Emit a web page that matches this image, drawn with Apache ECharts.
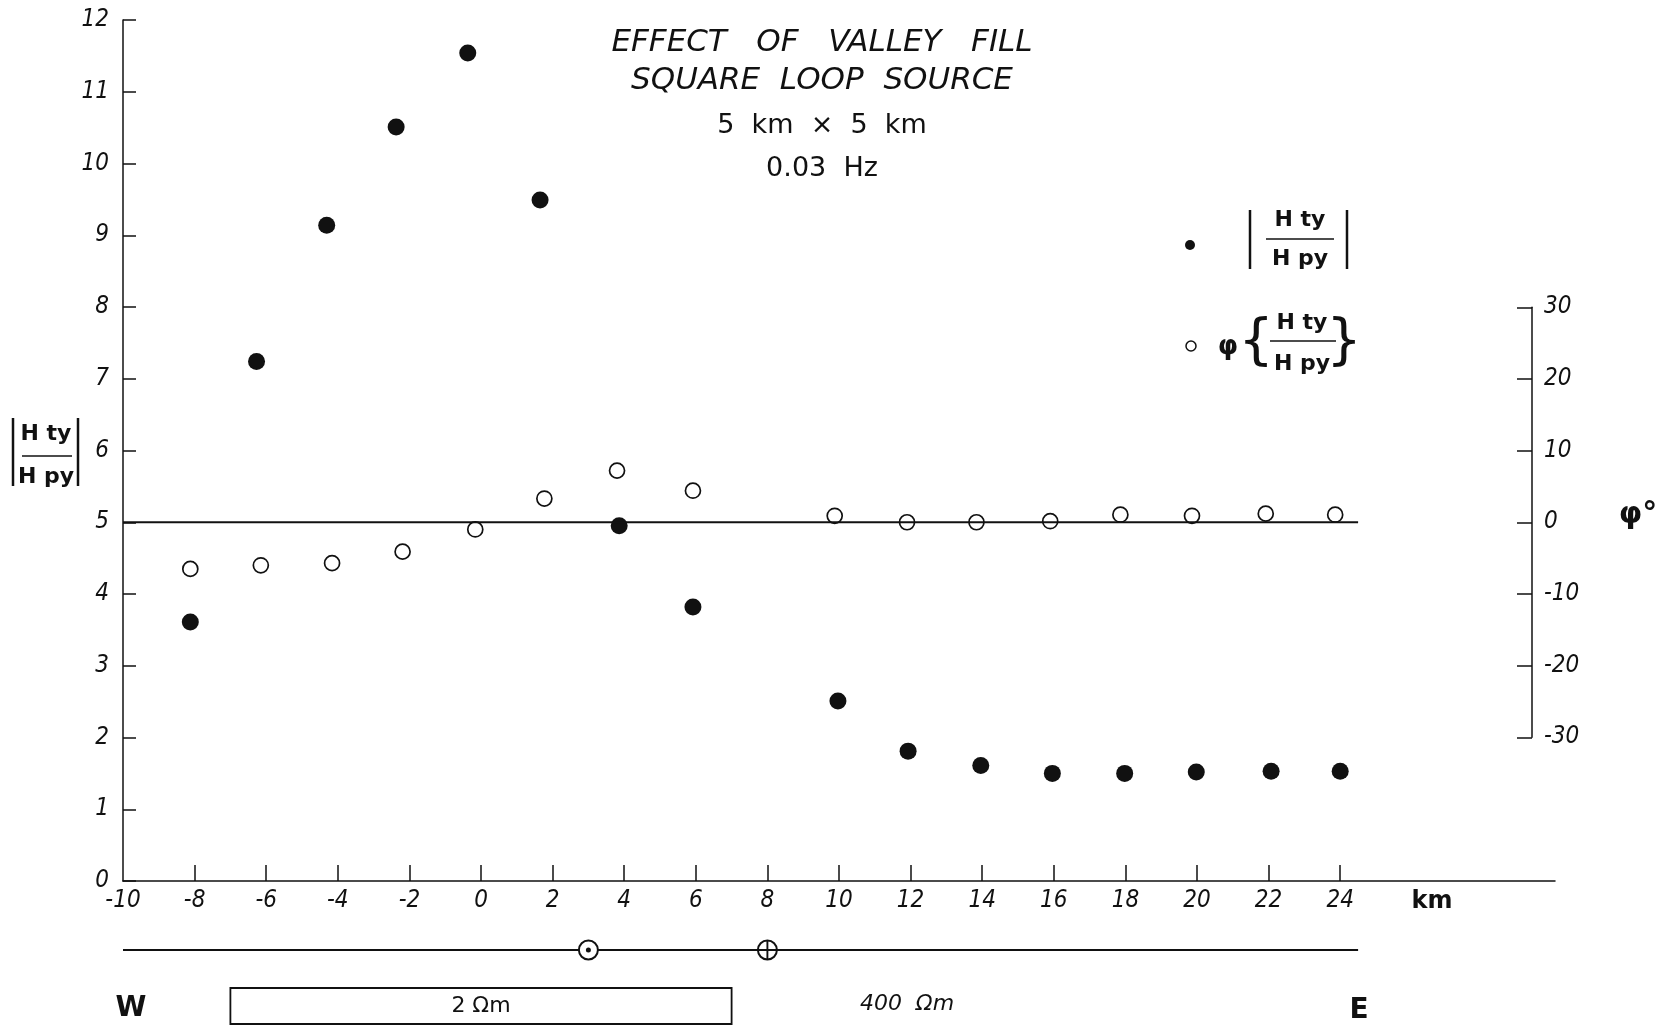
<!DOCTYPE html>
<html><head><meta charset="utf-8">
<script src="https://cdn.jsdelivr.net/npm/echarts@6/dist/echarts.min.js"></script>
<style>html,body{margin:0;padding:0;background:#fff}#c{width:1673px;height:1031px}</style>
</head><body><div id="c"></div>
<script>
// ---- data ----
const kmTicks = [-8,-6,-4,-2,0,2,4,6,8,10,12,14,16,18,20,22,24];
const kmLabels = [-10,-8,-6,-4,-2,0,2,4,6,8,10,12,14,16,18,20,22,24];
const phiTicks = [-30,-20,-10,0,10,20,30];
// |Hty/Hpy| (filled dots)
const magX = [-8.12,-6.27,-4.31,-2.37,-0.37,1.65,3.86,5.92,9.97,11.93,13.96,15.96,17.98,19.98,22.07,24.0];
const magY = [3.61,7.24,9.14,10.51,11.54,9.49,4.95,3.82,2.51,1.81,1.61,1.50,1.50,1.52,1.53,1.53];
// phase of Hty/Hpy in degrees (open dots)
const phX = [-8.12,-6.15,-4.16,-2.19,-0.16,1.77,3.8,5.92,9.88,11.9,13.84,15.9,17.86,19.86,21.92,23.86];
const phY = [-6.5,-6.0,-5.7,-4.1,-1.0,3.3,7.2,4.4,0.9,0.0,0.0,0.15,1.05,0.9,1.2,1.05];
// reference line (phase 0 = magnitude 5) extent in km
const refLineX = [-10, 24.5];
const refLineY = 5;
// profile sketch below the axis
const profileX = [-10, 24.5];
const loopCenterX = 3;   // ⊙
const loopCrossX = 8;    // ⊕
const valleyX = [-7, 7]; // 2 Ωm valley fill
const valleyLabel = '2 Ωm';
const hostLabel = '400  Ωm';

const chart = echarts.init(document.getElementById('c'), null, {renderer:'canvas'});
const F = 'DejaVu Sans';
const NF = '"Liberation Sans Narrow","DejaVu Sans Condensed","DejaVu Sans"';
const axisLblStyle = {fontFamily: NF, fontStyle:'italic', fontSize:24, color:'#111'};
const blk = '#111';
const PY = 0.8; // profile line level inside the sketch grid

function txt(x,y,t,opt){
  return Object.assign({type:'text', x:x, y:y, style:Object.assign({text:t, fill:blk, fontFamily:F, fontSize:22, textAlign:'center', textVerticalAlign:'middle'}, opt||{})});
}
function ln(x1,y1,x2,y2,w){
  return {type:'line', shape:{x1:x1,y1:y1,x2:x2,y2:y2}, style:{stroke:blk, lineWidth:w||1.5}};
}

const option = {
  backgroundColor:'#fff',
  animation:false,
  grid:[
    {left:123, right:118, top:20, bottom:150},
    {left:1400, right:141, top:307.25, bottom:293.75},
    {left:123, right:118, top:930, height:100}
  ],
  xAxis:[
    {gridIndex:0, type:'value', min:-10, max:30, interval:2,
     axisLine:{show:true, onZero:false, lineStyle:{color:blk, width:1.5}},
     axisTick:{show:true, inside:true, length:16, customValues:kmTicks, lineStyle:{color:blk, width:1.5}},
     axisLabel:Object.assign({customValues:kmLabels, margin:8}, axisLblStyle),
     splitLine:{show:false}},
    {gridIndex:1, type:'value', min:0, max:1, show:false},
    {gridIndex:2, type:'value', min:-10, max:30, show:false}
  ],
  yAxis:[
    {gridIndex:0, type:'value', min:0, max:12, interval:1,
     axisLine:{show:true, onZero:false, lineStyle:{color:blk, width:1.5}},
     axisTick:{show:true, inside:true, length:13, lineStyle:{color:blk, width:1.5}},
     axisLabel:Object.assign({margin:14}, axisLblStyle),
     splitLine:{show:false}},
    {gridIndex:0, type:'value', min:-50, max:70, show:false},
    {gridIndex:1, type:'value', position:'right', min:-30, max:30, interval:10,
     axisLine:{show:true, onZero:false, lineStyle:{color:blk, width:1.5}},
     axisTick:{show:true, inside:true, length:15, lineStyle:{color:blk, width:1.5}},
     axisLabel:Object.assign({margin:12}, axisLblStyle),
     splitLine:{show:false}},
    {gridIndex:2, type:'value', min:0, max:1, show:false}
  ],
  series:[
    {type:'line', xAxisIndex:0, yAxisIndex:0, symbol:'none', silent:true,
     lineStyle:{color:blk, width:2}, data:refLineX.map(x=>[x, refLineY])},
    {type:'scatter', name:'|Hty/Hpy|', xAxisIndex:0, yAxisIndex:0, symbol:'circle', symbolSize:17,
     itemStyle:{color:blk, opacity:1}, data:magX.map((x,i)=>[x, magY[i]])},
    {type:'scatter', name:'phase', xAxisIndex:0, yAxisIndex:1, symbol:'circle', symbolSize:15,
     itemStyle:{color:'#fff', borderColor:blk, borderWidth:1.7, opacity:1}, data:phX.map((x,i)=>[x, phY[i]])},
    {type:'line', xAxisIndex:2, yAxisIndex:3, symbol:'none', silent:true,
     lineStyle:{color:blk, width:2}, data:profileX.map(x=>[x, PY]),
     markArea:{silent:true,
       itemStyle:{color:'#fff', borderColor:blk, borderWidth:1.8, opacity:1},
       label:{show:true, position:'inside', formatter:valleyLabel, fontFamily:F, fontSize:22, color:blk},
       data:[[{coord:[valleyX[0], 0.42]},{coord:[valleyX[1], 0.06]}]]}},
    {type:'scatter', xAxisIndex:2, yAxisIndex:3, symbol:'circle', symbolSize:19, silent:true,
     itemStyle:{color:'#fff', borderColor:blk, borderWidth:2, opacity:1}, data:[[loopCenterX, PY],[loopCrossX, PY]], z:3},
    {type:'scatter', xAxisIndex:2, yAxisIndex:3, symbol:'circle', symbolSize:5, silent:true,
     itemStyle:{color:blk, opacity:1}, data:[[loopCenterX, PY]], z:4},
    {type:'scatter', xAxisIndex:2, yAxisIndex:3, silent:true,
     symbol:'path://M-0.1,-1 H0.1 V-0.1 H1 V0.1 H0.1 V1 H-0.1 V0.1 H-1 V-0.1 H-0.1 Z', symbolSize:19,
     itemStyle:{color:blk, opacity:1}, data:[[loopCrossX, PY]], z:4}
  ],
  graphic:[
    // title block
    txt(822, 43, 'EFFECT   OF   VALLEY   FILL', {fontStyle:'italic', fontSize:31}),
    txt(822, 81, 'SQUARE  LOOP  SOURCE', {fontStyle:'italic', fontSize:31}),
    txt(822, 126, '5  km  ×  5  km', {fontSize:27}),
    txt(822, 169, '0.03  Hz', {fontSize:27}),
    // legend 1
    {type:'circle', shape:{cx:1190, cy:245, r:5}, style:{fill:blk}},
    ln(1250,210,1250,269,2.5), ln(1347,210,1347,269,2.5),
    txt(1300, 220, 'H ty', {fontSize:22, fontWeight:'bold'}),
    ln(1266,239,1334,239,1.5),
    txt(1300, 259, 'H py', {fontSize:22, fontWeight:'bold'}),
    // legend 2
    {type:'circle', shape:{cx:1191, cy:346, r:5}, style:{fill:'#fff', stroke:blk, lineWidth:1.5}},
    txt(1228, 347, 'φ', {fontSize:26, fontWeight:'bold'}),
    txt(1256, 343, '{', {fontSize:56}),
    txt(1344, 343, '}', {fontSize:56}),
    txt(1302, 323, 'H ty', {fontSize:22, fontWeight:'bold'}),
    ln(1270,341,1336,341,1.5),
    txt(1302, 364, 'H py', {fontSize:22, fontWeight:'bold'}),
    // left axis name
    ln(13,418,13,486,2.5), ln(78,418,78,486,2.5),
    txt(46, 434, 'H ty', {fontSize:22, fontWeight:'bold'}),
    ln(22,456,72,456,1.5),
    txt(46, 477, 'H py', {fontSize:22, fontWeight:'bold'}),
    // right axis name
    txt(1638, 515, 'φ°', {fontSize:30, fontWeight:'bold'}),
    // x axis unit
    txt(1432, 902, 'km', {fontSize:24, fontWeight:'bold'}),
    // profile annotations
    txt(131, 1009, 'W', {fontSize:28, fontWeight:'bold'}),
    txt(1359, 1011, 'E', {fontSize:28, fontWeight:'bold'}),
    txt(907, 1004, hostLabel, {fontSize:22, fontStyle:'italic'})
  ]
};
chart.setOption(option);
</script>
</body></html>
